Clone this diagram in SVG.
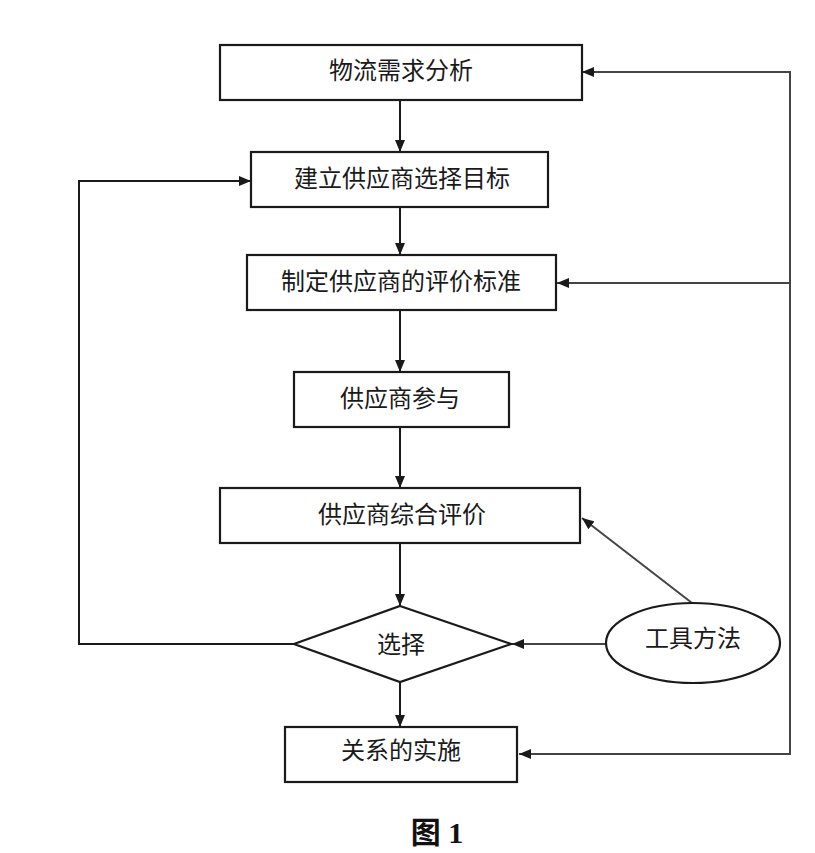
<svg xmlns="http://www.w3.org/2000/svg" width="815" height="853" viewBox="0 0 815 853">
<style>
.box{fill:#fff;stroke:#1a1a1a;stroke-width:2.2}
.lbl{font-family:"Noto Sans CJK SC","Noto Sans CJK JP",sans-serif;font-size:24px;fill:#1a1a1a;text-anchor:middle;dominant-baseline:central}
.ln{fill:none;stroke:#1a1a1a;stroke-width:2}
.lg{fill:none;stroke:#444;stroke-width:2}
</style>
<defs>
<marker id="ah" markerWidth="12" markerHeight="10" refX="12" refY="5" orient="auto" markerUnits="userSpaceOnUse">
<path d="M0,0 L12,5 L0,10 Z" fill="#1a1a1a"/>
</marker>
</defs>
<rect width="815" height="853" fill="#fff"/>
<g id="connectors">
<line class="ln" x1="400" y1="100" x2="400" y2="152" marker-end="url(#ah)"/>
<line class="ln" x1="400" y1="207" x2="400" y2="255" marker-end="url(#ah)"/>
<line class="ln" x1="400" y1="310" x2="400" y2="372" marker-end="url(#ah)"/>
<line class="ln" x1="400" y1="427" x2="400" y2="488" marker-end="url(#ah)"/>
<line class="ln" x1="400" y1="543" x2="400" y2="606" marker-end="url(#ah)"/>
<line class="ln" x1="400" y1="682" x2="400" y2="727" marker-end="url(#ah)"/>
<polyline class="ln" points="294,644 79,644 79,181 251,181" marker-end="url(#ah)"/>
<line class="lg" x1="606" y1="644" x2="512" y2="644" marker-end="url(#ah)"/>
<line class="lg" x1="692" y1="603" x2="582" y2="518" marker-end="url(#ah)"/>
<polyline class="lg" points="790,72 790,754 519,754" marker-end="url(#ah)"/>
<line class="lg" x1="791" y1="72" x2="582" y2="72" marker-end="url(#ah)"/>
<line class="lg" x1="790" y1="283" x2="557" y2="283" marker-end="url(#ah)"/>
</g>
<g id="n1"><rect class="box" x="220" y="45" width="362" height="55"/><text class="lbl" x="401" y="68">物流需求分析</text></g>
<g id="n2"><rect class="box" x="251" y="152" width="297" height="55"/><text class="lbl" x="402" y="176">建立供应商选择目标</text></g>
<g id="n3"><rect class="box" x="247" y="255" width="309" height="55"/><text class="lbl" x="401" y="279">制定供应商的评价标准</text></g>
<g id="n4"><rect class="box" x="294" y="372" width="215" height="55"/><text class="lbl" x="400" y="396">供应商参与</text></g>
<g id="n5"><rect class="box" x="220" y="488" width="360" height="55"/><text class="lbl" x="402" y="512">供应商综合评价</text></g>
<g id="n6"><polygon class="box" points="400,606 511,644 400,682 294,644"/><text class="lbl" x="401" y="642">选择</text></g>
<g id="n7"><ellipse class="box" cx="693" cy="643" rx="87" ry="40"/><text class="lbl" x="693" y="636">工具方法</text></g>
<g id="n8"><rect class="box" x="285" y="727" width="232" height="55"/><text class="lbl" x="401" y="748">关系的实施</text></g>
<text x="437" y="843" font-family="'Liberation Serif','Noto Sans CJK SC',serif" font-size="30" font-weight="bold" text-anchor="middle" fill="#111">图 1</text>
</svg>
